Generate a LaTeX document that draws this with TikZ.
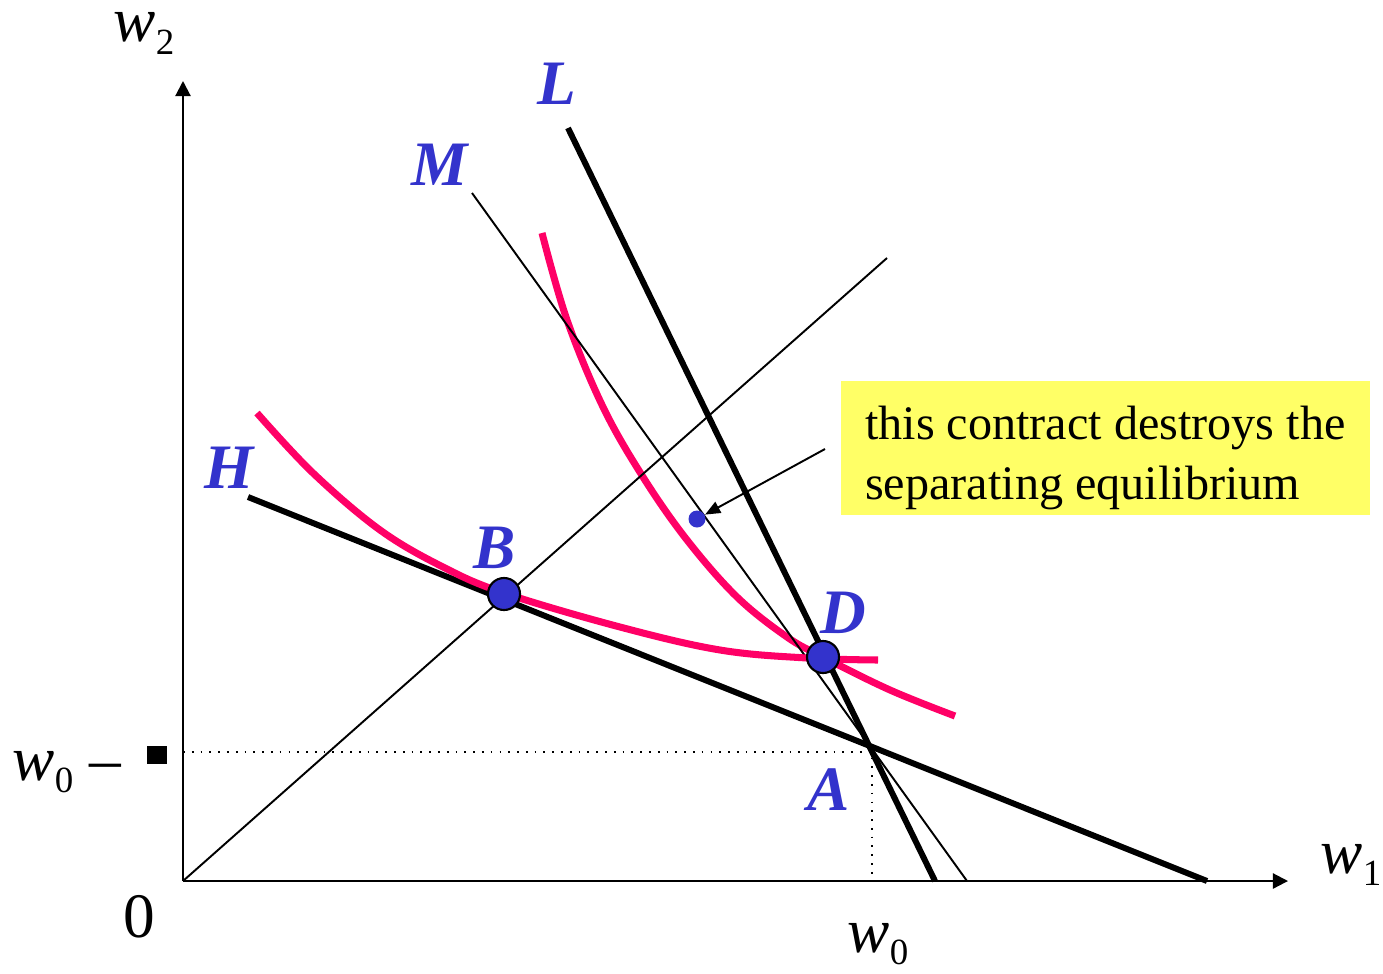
\documentclass[tikz,border=0pt]{standalone}
\usepackage{fontspec}
\setmainfont{Liberation Serif}
\usetikzlibrary{arrows.meta}
\definecolor{dotblue}{HTML}{3333CC}
\definecolor{curvepink}{HTML}{FF0066}
\definecolor{noteyellow}{HTML}{FFFF66}
\newcommand{\wlab}[1]{\textit{w}\raisebox{-0.2em}{\fontsize{10.5}{10.5}\selectfont #1}}

\begin{document}
\begin{tikzpicture}[
    x=0.01cm, y=-0.01cm,
    axis/.style={line width=0.6pt, -{Triangle[length=4.3pt,width=4.3pt]}},
    thickline/.style={line width=1.7pt},
    thinline/.style={line width=0.55pt},
    indiff/.style={curvepink, line width=2pt},
    guide/.style={dotted, line width=0.5pt},
    dot/.style={circle, fill=dotblue, draw=black, line width=0.6pt, minimum size=0.32cm, inner sep=0pt},
    smalldot/.style={circle, fill=dotblue, minimum size=0.17cm, inner sep=0pt},
    pointlabel/.style={text=dotblue, font=\fontsize{18}{18}\selectfont\bfseries\itshape, inner sep=0pt, anchor=base},
    axislabel/.style={font=\fontsize{18}{18}\selectfont, inner sep=0pt, anchor=base west},
    note/.style={fill=noteyellow, align=left, inner xsep=0.2cm, inner ysep=0pt,
      minimum width=5.29cm, minimum height=1.34cm, font=\fontsize{13.7}{17}\selectfont, anchor=north west},
    pointer/.style={line width=0.55pt, -{Triangle[length=4.3pt,width=3.5pt]}}
  ]
    \useasboundingbox (0,0) rectangle (1383,973);

    \coordinate (O) at (183,881);
    \coordinate (ytop) at (183,81);
    \coordinate (xend) at (1288,881);
    \coordinate (A) at (872,752);
    \coordinate (Ay) at (O |- A);
    \coordinate (Ax) at (A |- O);
    \coordinate (Ltop) at (568,128);
    \coordinate (Lbot) at (935,881);
    \coordinate (Mtop) at (472,193);
    \coordinate (Mbot) at (967,881);
    \coordinate (Htop) at (248,497);
    \coordinate (Hbot) at (1207,881);
    \coordinate (diagtop) at (887,258);
    \coordinate (notetail) at (825,449);

    % dotted guides to A
    \draw[guide] (Ay) -- (A) -- (Ax);

    % axes
    \draw[axis] (O) -- (ytop);
    \draw[axis] (O) -- (xend);

    % low-risk indifference curve through D
    \draw[indiff] plot[smooth, tension=0.6] coordinates {(542,233) (567,320) (603,407) (643,477) (687,540) (737,597) (787,637) (823,657) (890,690) (955,716)};

    \draw[thinline] (O) -- (diagtop);
    \draw[thinline] (Mtop) -- (Mbot);
    \draw[thickline] (Ltop) -- (Lbot);
    \draw[thickline] (Htop) -- (Hbot);

    % high-risk indifference curve through B
    \draw[indiff] plot[smooth, tension=0.6] coordinates {(257,413) (313,473) (380,530) (443,567) (504,593) (620,627) (720,650) (807,658) (878,660)};

    \node[dot] (B) at (504,594) {};
    \node[dot] (D) at (823,657) {};
    \node[smalldot] (contract) at (697,519) {};

    \node[note] (remark) at (840,380) {\rule{0pt}{0.54cm}this contract destroys the\\separating equilibrium};
    \draw[pointer] (notetail) -- (contract);

    \node[pointlabel] (labL) at (557,105) {L};
    \node[pointlabel] (labM) at (440,185) {M};
    \node[pointlabel] (labH) at (229,488) {H};
    \node[pointlabel] (labB) at (495,568) {B};
    \node[pointlabel] (labD) at (843,633) {D};
    \node[pointlabel] (labA) at (829,810) {A};

    \node[axislabel] (labw2) at (113,42) {\wlab{2}};
    \node[axislabel] (labw1) at (1320,873) {\wlab{1}};
    \node[axislabel] (labw0x) at (847,952) {\wlab{0}};
    \node[axislabel] (labw0y) at (12,780) {\wlab{0} --};
    \node[axislabel, anchor=base] (labzero) at (139,937) {0};
    \node[fill=black, minimum width=0.2cm, minimum height=0.18cm, inner sep=0pt] (tick) at (157,755) {};
\end{tikzpicture}
\end{document}
